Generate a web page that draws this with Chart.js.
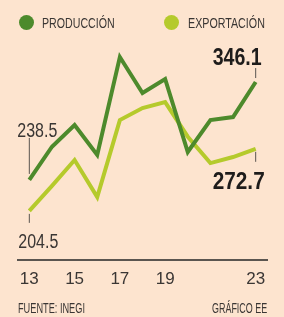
<!DOCTYPE html>
<html>
<head>
<meta charset="utf-8">
<script src="https://cdn.jsdelivr.net/npm/chart.js@4"></script>
<style>
  body { margin: 0; background: #fde4cf; }
  #wrap { position: relative; width: 284px; height: 317px; overflow: hidden; font-family: 'Liberation Sans', sans-serif; color: #3a3634; }
  canvas { position: absolute; left: 0; top: 0; }
  .txt { position: absolute; white-space: nowrap; transform-origin: left center; line-height: 1; }
  .dot { position: absolute; width: 15px; height: 15px; border-radius: 50%; }
</style>
</head>
<body>
<div id="wrap">
  <canvas id="chart" width="284" height="317"></canvas>
  <div class="dot" style="left:19px;top:15px;background:#4d8a2c"></div>
  <div class="txt" data-w="73" style="left:42px;top:15px;font-size:15px">PRODUCCIÓN</div>
  <div class="dot" style="left:164px;top:15px;background:#b5ca2c"></div>
  <div class="txt" data-w="77" style="left:188px;top:15px;font-size:15px">EXPORTACIÓN</div>
  <div class="txt" data-w="67" style="left:18px;top:301px;font-size:14px">FUENTE: INEGI</div>
  <div class="txt" data-w="55" style="left:212px;top:301px;font-size:14px">GRÁFICO EE</div>
</div>
<script>
// DATA
const years = ['13', '14', '15', '16', '17', '18', '19', '20', '21', '22', '23'];
const shownTicks = ['13', '15', '17', '19', '23'];
const produccion = [238.5, 275, 298.8, 265.9, 373.6, 334, 349.4, 269.2, 304.3, 307.6, 346.1];
const exportacion = [204.5, 232, 260.4, 219.7, 304.3, 317.5, 324.1, 286, 257, 263.7, 272.7];

// squeeze the html labels into the width they take in the print version
document.querySelectorAll('.txt').forEach(el => {
    const w = +el.dataset.w;
    el.style.transform = 'scaleX(' + (w / el.offsetWidth) + ')';
});

// Value callouts: dataset, point, text, where it goes relative to the point
const callouts = [
    { ds: 0, i: 0, text: '238.5', bold: false, size: 20, w: 40, dx: -12, dy: -43, line: [-42, -6] },
    { ds: 1, i: 0, text: '204.5', bold: false, size: 20, w: 40, dx: -11, dy: 37, line: [3, 12] },
    { ds: 0, i: 10, text: '346.1', bold: true, size: 23, w: 49, dx: -43, dy: -17, line: [-14, -4] },
    { ds: 1, i: 10, text: '272.7', bold: true, size: 23, w: 52, dx: -43, dy: 40, line: [3, 13] }
];

const calloutPlugin = {
    id: 'callouts',
    afterDatasetsDraw(chart) {
        const ctx = chart.ctx;
        callouts.forEach(c => {
            const pt = chart.getDatasetMeta(c.ds).data[c.i];
            ctx.save();
            ctx.strokeStyle = '#5a5550';
            ctx.lineWidth = 1;
            ctx.beginPath();
            ctx.moveTo(pt.x, pt.y + c.line[0]);
            ctx.lineTo(pt.x, pt.y + c.line[1]);
            ctx.stroke();
            ctx.fillStyle = c.bold ? '#1e1c1b' : '#3a3634';
            ctx.font = (c.bold ? 'bold ' : '') + c.size + "px 'Liberation Sans', sans-serif";
            ctx.textAlign = 'left';
            ctx.textBaseline = 'alphabetic';
            const m = ctx.measureText(c.text).width;
            ctx.translate(pt.x + c.dx, pt.y + c.dy);
            ctx.scale(c.w / m, 1);
            ctx.fillText(c.text, 0, 0);
            ctx.restore();
        });
    }
};

new Chart(document.getElementById('chart'), {
    type: 'line',
    data: {
        labels: years,
        datasets: [{
            label: 'PRODUCCIÓN',
            data: produccion,
            borderColor: '#4d8a2c',
            borderWidth: 4,
            pointRadius: 0,
            tension: 0
        }, {
            label: 'EXPORTACIÓN',
            data: exportacion,
            borderColor: '#b5ca2c',
            borderWidth: 4,
            pointRadius: 0,
            tension: 0
        }]
    },
    options: {
        responsive: false,
        animation: false,
        layout: { padding: { left: 18, right: 17, top: 40, bottom: 0 } },
        plugins: { legend: { display: false }, tooltip: { enabled: false } },
        scales: {
            x: {
                offset: true,
                grid: { display: false, drawTicks: false },
                border: { color: '#5a5550', width: 2 },
                afterFit: s => { s.height = 57; },
                ticks: {
                    padding: 9,
                    maxRotation: 0,
                    autoSkip: false,
                    color: '#3a3634',
                    font: { family: "'Liberation Sans', sans-serif", size: 17 },
                    callback: function (v) {
                        const l = this.getLabelForValue(v);
                        return shownTicks.includes(l) ? l : '';
                    }
                }
            },
            y: { display: false, min: 150.5, max: 392.3 }
        }
    },
    plugins: [calloutPlugin]
});
</script>
</body>
</html>
